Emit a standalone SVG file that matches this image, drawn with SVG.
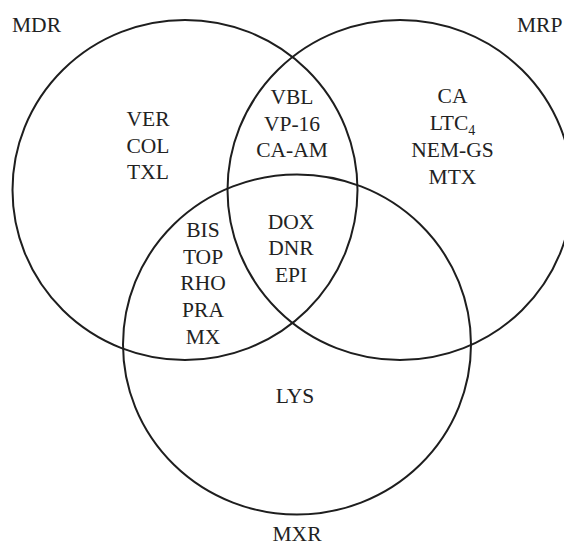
<svg xmlns="http://www.w3.org/2000/svg" width="564" height="547" viewBox="0 0 564 547">
  <style>
    .ring { fill: none; stroke: #1e1e1e; stroke-width: 2; }
    text { font-family: "Liberation Serif", "Times New Roman", serif; font-size: 21.5px; fill: #222; }
    .c { text-anchor: middle; }
    .sub { font-size: 14px; }
  </style>
  <rect width="564" height="547" fill="#fff"/>

  <!-- the three transporter sets -->
  <g id="sets">
    <g id="set-mdr">
      <ellipse class="ring" cx="185" cy="190" rx="172.5" ry="170"/>
      <text x="12" y="32">MDR</text>
    </g>
    <g id="set-mrp">
      <ellipse class="ring" cx="400" cy="190" rx="172.5" ry="170"/>
      <text x="517" y="32">MRP</text>
    </g>
    <g id="set-mxr">
      <ellipse class="ring" cx="297" cy="344.5" rx="174" ry="170"/>
      <text class="c" x="297" y="541">MXR</text>
    </g>
  </g>

  <!-- substrates, by region -->
  <g id="mdr-only">
    <text class="c" x="148" y="126">VER</text>
    <text class="c" x="148" y="153">COL</text>
    <text class="c" x="148" y="179">TXL</text>
  </g>
  <g id="mdr-mrp">
    <text class="c" x="292" y="104">VBL</text>
    <text class="c" x="292" y="131">VP-16</text>
    <text class="c" x="292" y="157">CA-AM</text>
  </g>
  <g id="mrp-only">
    <text class="c" x="452.5" y="103">CA</text>
    <text class="c" x="452.5" y="130">LTC<tspan class="sub" dy="5">4</tspan></text>
    <text class="c" x="452.5" y="157">NEM-GS</text>
    <text class="c" x="452.5" y="184">MTX</text>
  </g>
  <g id="mdr-mxr">
    <text class="c" x="203" y="237">BIS</text>
    <text class="c" x="203" y="264">TOP</text>
    <text class="c" x="203" y="290">RHO</text>
    <text class="c" x="203" y="317">PRA</text>
    <text class="c" x="203" y="344">MX</text>
  </g>
  <g id="all-three">
    <text class="c" x="291" y="229">DOX</text>
    <text class="c" x="291" y="255">DNR</text>
    <text class="c" x="291" y="282">EPI</text>
  </g>
  <g id="mxr-only">
    <text class="c" x="295" y="403">LYS</text>
  </g>
</svg>
